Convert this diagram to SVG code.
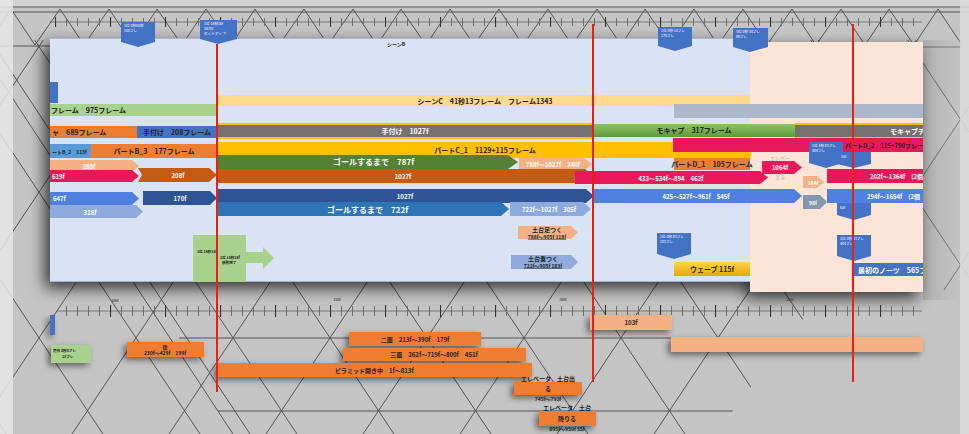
<svg xmlns="http://www.w3.org/2000/svg" width="969" height="434" viewBox="0 0 969 434">
<defs>
<style>
.t{font-family:"Noto Sans CJK JP","Noto Sans",sans-serif;font-weight:700}
.w{fill:#ffffff}
.d{fill:#222222}
.f7{font-size:7px}
.f6{font-size:6px}
.f5{font-size:5px}
.f4{font-size:3.6px}
.c{text-anchor:middle}
.ln{stroke:#555;stroke-width:1;fill:none}
.red{stroke:#e8201c;stroke-width:2}
.mk{fill:#4472c4}
.mt{font-family:"Noto Sans CJK JP","Noto Sans",sans-serif;font-size:3.6px;fill:#fff}
</style>
<filter id="sh" x="-10%" y="-15%" width="120%" height="135%">
<feDropShadow dx="-5" dy="6" stdDeviation="8" flood-color="#000" flood-opacity="0.75"/>
</filter>
<filter id="sh2" x="-20%" y="-40%" width="140%" height="200%">
<feDropShadow dx="-3" dy="3" stdDeviation="3" flood-color="#000" flood-opacity="0.5"/>
</filter>
<clipPath id="chart"><rect x="50" y="38" width="873" height="254"/></clipPath>
<clipPath id="lat"><polygon points="0,40 969,40 969,290 825,290 715,434 0,434"/></clipPath>
<pattern id="tk" patternUnits="userSpaceOnUse" x="55" y="0" width="11" height="10"><line x1="0.5" y1="0" x2="0.5" y2="10" stroke="#666" stroke-width="0.9"/></pattern>
<pattern id="tkM" patternUnits="userSpaceOnUse" x="55" y="0" width="55" height="12"><line x1="0.5" y1="0" x2="0.5" y2="12" stroke="#333" stroke-width="1.2"/></pattern>
<linearGradient id="wave" x1="0" y1="0" x2="0" y2="1"><stop offset="0" stop-color="#ffd34d"/><stop offset="1" stop-color="#e8a800"/></linearGradient>
<linearGradient id="moc" x1="0" y1="0" x2="0" y2="1"><stop offset="0" stop-color="#8cc266"/><stop offset="1" stop-color="#5e9b3a"/></linearGradient>
<linearGradient id="rsh" x1="0" y1="0" x2="1" y2="0"><stop offset="0" stop-color="#8a8a8a"/><stop offset="1" stop-color="#c4c4c4"/></linearGradient>
</defs>

<!-- background -->
<rect x="0" y="0" width="969" height="434" fill="#c4c4c4"/>
<rect x="0" y="0" width="969" height="8" fill="#d2d2d2"/>
<g id="lattice" clip-path="url(#lat)">
<path class="ln" d="M-283 0L6 434M-186 0L103 434M-89 0L200 434M8 0L297 434M105 0L394 434M202 0L491 434M299 0L588 434M396 0L685 434M493 0L782 434M590 0L879 434M687 0L976 434M784 0L1073 434M881 0L1170 434"/>
<path class="ln" d="M70 0L-219 434M167 0L-122 434M264 0L-25 434M361 0L72 434M458 0L169 434M555 0L266 434M652 0L363 434M749 0L460 434M846 0L557 434M943 0L654 434M1040 0L751 434M1137 0L848 434"/>
<path class="ln" d="M-52 0L233 434M-36 0L250 434M179 338L680 338M218 411L733 411M0 46L50 46M923 47L962 47"/>
</g>
<g id="truss">
<path class="ln" d="M0 7L969 7M0 12L969 12"/>
<path class="ln" d="M-13 45L11 9L35 45L60 9L84 45L109 9L133 45L157 9L182 45L206 9L231 45L255 9L279 45L304 9L328 45L353 9L377 45L401 9L426 45L450 9L474 45L499 9L523 45L548 9L572 45L597 9L621 45L645 9L670 45L694 9L718 45L743 9L767 45L792 9L816 45L841 9L865 45L889 9L914 45L938 9L962 45"/>
</g>
<rect x="0" y="0" width="13" height="434" fill="#e6e6e6" opacity="0.85"/>
<rect x="923" y="40" width="37" height="260" fill="url(#rsh)" opacity="0.35"/>
<rect x="960" y="0" width="9" height="434" fill="#dcdcdc" opacity="0.9"/>

<!-- rulers -->
<g id="ruler-top">
<line x1="50" y1="22" x2="922" y2="22" stroke="#666" stroke-width="0.8"/>
<rect x="55" y="18" width="867" height="8" fill="url(#tk)"/>
<rect x="55" y="17" width="867" height="10" fill="url(#tkM)"/>
</g>

<!-- chart panel -->
<g id="panel" filter="url(#sh)">
<rect x="50" y="38" width="700" height="244" fill="#dae3f3"/>
<rect x="750" y="42" width="173" height="250" fill="#fce4d6"/>
</g>
<line x1="50" y1="38.5" x2="750" y2="38.5" stroke="#9fb6dd" stroke-width="1"/>
<line x1="50" y1="281.5" x2="750" y2="281.5" stroke="#9fb6dd" stroke-width="1"/>

<g id="ruler-bottom">
<line x1="57" y1="311" x2="922" y2="311" stroke="#666" stroke-width="0.8"/>
<rect x="57" y="306" width="865" height="10" fill="url(#tk)"/>
<rect x="57" y="305" width="865" height="12" fill="url(#tkM)"/>
<text x="115" y="302" class="t c" style="font-size:3px;fill:#444">1000</text>
<text x="337" y="301" class="t c" style="font-size:3px;fill:#444">1500</text>
<text x="563" y="301" class="t c" style="font-size:3px;fill:#444">2000</text>
<text x="790" y="301" class="t c" style="font-size:3px;fill:#444">2500</text>
</g>

<g id="bars" clip-path="url(#chart)">
<text x="396" y="46" class="t d c" style="font-size:5px">シーンB</text>
<rect x="50" y="82" width="8" height="21" fill="#4472c4"/>
<!-- row A -->
<g id="sceneC"><rect x="217" y="95" width="533" height="11" fill="#ffd98c"/><text x="485" y="103.5" class="t d c f7">シーンC　41秒13フレーム　フレーム1343</text></g>
<g id="frame975"><rect x="50" y="104" width="167" height="12" fill="#a9d18e"/><text x="51" y="113" class="t d f7">フレーム　975フレーム</text></g>
<rect x="674" y="104" width="249" height="14" fill="#adb9ca"/>
<!-- row B -->
<g id="moc689"><rect x="50" y="126" width="87" height="12" fill="#ed7d31"/><text x="52" y="134.5" class="t d f7">ャ　689フレーム</text></g>
<g id="hand208"><rect x="137" y="126" width="80" height="12" fill="#4472c4"/><text x="177" y="134.5" class="t d c f7">手付け　208フレーム</text></g>
<g id="hand1027"><rect x="217" y="123" width="376" height="16" fill="#ffc000"/><rect x="217" y="125" width="376" height="12" fill="#767171"/><text x="405" y="133.5" class="t w c f7">手付け　1027f</text></g>
<g id="moc317"><rect x="593" y="124" width="202" height="13" fill="url(#moc)"/><text x="694" y="133" class="t d c f7">モキャプ　317フレーム</text></g>
<g id="moc2"><rect x="795" y="123" width="128" height="16" fill="#ffc000"/><rect x="795" y="125" width="128" height="12" fill="#767171"/><text x="890" y="133.5" class="t w f7">モキャプチャ</text></g>
<!-- row C -->
<g id="partB2"><rect x="50" y="144" width="41" height="14" fill="#5b9bd5"/><text x="52" y="153.5" class="t d f5">ートB_2　113f</text></g>
<g id="partB3"><rect x="91" y="144" width="126" height="14" fill="#ed7d31"/><text x="154" y="153.5" class="t d c f7">パートB_3　177フレーム</text></g>
<g id="partC1"><rect x="217" y="142" width="534" height="16" fill="#ffc000"/><text x="485" y="153" class="t d c f7">パートC_1　1129+115フレーム</text></g>
<g id="partD2"><rect x="673" y="138" width="250" height="14" fill="#e8195a"/><text x="845" y="147.5" class="t d f6">パートD_2　115+790フレーム</text></g>
<!-- row D -->
<g id="a280"><polygon points="50,160 132,160 139,166 132,172 50,172" fill="#f4b183"/><text x="89" y="168.5" class="t w c f6">280f</text></g>
<g id="goal787"><polygon points="217,155 508,155 518,162 508,169 217,169" fill="#548235"/><text x="333" y="165" class="t w" style="font-size:8px">ゴールするまで　787f</text></g>
<g id="a788"><polygon points="519,158 584,158 592,164 584,171 519,171" fill="#f4b183"/><text x="553" y="167" class="t w c f6">788f〜1027f　240f</text></g>
<g id="partD1"><rect x="674" y="158" width="76" height="12" fill="#ed7d31"/><text x="712" y="166.5" class="t d c f7">パートD_1　105フレーム</text></g>
<!-- row E -->
<g id="a619"><polygon points="50,170 132,170 139,176 132,182 50,182" fill="#e8195a"/><text x="52" y="179" class="t w f6">619f</text></g>
<g id="a208"><polygon points="138,168 209,168 217,175 209,182 138,182 142,175" fill="#c55a11"/><text x="178" y="178" class="t w c f6">208f</text></g>
<g id="a1027o"><polygon points="217,169 585,169 593,176 585,183 217,183" fill="#c55a11"/><text x="403" y="179" class="t w c f6">1027f</text></g>
<g id="a433"><polygon points="575,171 760,171 768,177.5 760,184 575,184" fill="#e8195a"/><text x="671" y="180.5" class="t w c f6">433〜534f〜894　462f</text></g>
<g id="a1064"><text x="780" y="160" class="t c" style="font-size:5px;fill:#c9c9c9">エレベー</text><text x="780" y="179" class="t c" style="font-size:5px;fill:#c9c9c9">出る</text><polygon points="762,161 794,161 802,167.5 794,174 762,174" fill="#e8195a"/><text x="780" y="170" class="t w c f6">1064f</text></g>
<g id="a164"><polygon points="803,176 817,176 824,182 817,188 803,188" fill="#f4b183"/><text x="813" y="184.5" class="t w c f5">164f</text></g>
<g id="a202"><rect x="827" y="169" width="96" height="14" fill="#e8195a"/><text x="870" y="179" class="t w f6">202f〜1364f　(2個</text></g>
<!-- row F -->
<g id="a647"><polygon points="50,192 132,192 139,198.5 132,205 50,205" fill="#4f81e0"/><text x="53" y="201" class="t w f6">647f</text></g>
<g id="a170"><polygon points="143,191 210,191 217,198 210,205 143,205" fill="#2f5597"/><text x="180" y="201" class="t w c f6">170f</text></g>
<g id="a1027b"><polygon points="217,189 586,189 594,196 586,203 217,203" fill="#2f5597"/><text x="405" y="199" class="t w c f6">1027f</text></g>
<g id="a425"><polygon points="593,189 794,189 802,196 794,203 593,203" fill="#4f81e0"/><text x="696" y="199" class="t w c f6">425〜527f〜961f　545f</text></g>
<g id="a98"><polygon points="803,195 820,195 827,202 820,209 803,209" fill="#8497b0"/><text x="813" y="204.5" class="t w c f5">98f</text></g>
<g id="a294"><rect x="827" y="189" width="96" height="14" fill="#4f81e0"/><text x="867" y="199" class="t w f6">294f〜1654f　(2個</text></g>
<!-- row G -->
<g id="a318"><polygon points="50,205 136,205 143,211.5 136,218 50,218" fill="#8faadc"/><text x="90" y="214.5" class="t w c f6">318f</text></g>
<g id="goal722"><polygon points="217,202 501,202 509,209 501,216 217,216" fill="#2e75b6"/><text x="327" y="212.5" class="t w" style="font-size:8px">ゴールするまで　722f</text></g>
<g id="a722"><polygon points="510,202 583,202 591,209 583,216 510,216" fill="#8faadc"/><text x="549" y="212" class="t w c f6">722f〜1027f　305f</text></g>
<!-- row H -->
<g id="foot"><polygon points="518,226 571,226 578,232.5 571,239 518,239" fill="#f4b183"/><text x="547" y="232" class="t d c f6">土台足つく</text><text x="547" y="238.5" class="t d c f5" text-decoration="underline">788f〜905f 118f</text></g>
<g id="ride"><polygon points="511,255 571,255 578,262 571,269 511,269" fill="#8faadc"/><text x="543" y="261" class="t d c f6">土台乗つく</text><text x="543" y="267.5" class="t d c f5" text-decoration="underline">722f〜905f 183f</text></g>
<g id="move"><rect x="193" y="235" width="53" height="47" fill="#a9d18e"/><polygon points="246,252 263,252 263,247 274,258 263,269 263,263 246,263" fill="#a9d18e"/><text x="197" y="253" class="t d f4">1位 16秒16f</text><text x="220" y="258.5" class="t d f4">1位 16秒16f</text><text x="222" y="264" class="t d f4">移動完了</text></g>
<g id="wave"><rect x="674" y="262" width="76" height="14" fill="url(#wave)"/><text x="712" y="272" class="t d c f7">ウェーブ 115f</text></g>
<g id="notes"><rect x="854" y="263" width="69" height="13" fill="#4472c4"/><text x="858" y="272.5" class="t w f7">最初のノーツ　565フ</text></g>
</g>

<!-- markers -->
<g id="m1"><polygon class="mk" points="121,22 155,22 155,42 138,47 121,42"/><text x="124" y="27" class="mt">1位 0秒08秒</text><text x="124" y="32" class="mt">150フレ</text></g>
<g id="m2"><polygon class="mk" points="200,20 237,20 237,39 218,44 200,39"/><text x="204" y="25" class="mt">1位 16秒16f</text><text x="204" y="30" class="mt">167f0</text><text x="204" y="35" class="mt">セットアップ</text></g>
<g id="m3"><polygon class="mk" points="658,27 692,27 692,46 675,51 658,46"/><text x="661" y="32" class="mt">2位 0秒 14フレ</text><text x="661" y="37" class="mt">270フレ</text></g>
<g id="m4"><polygon class="mk" points="733,28 768,28 768,47 750,52 733,47"/><text x="736" y="33" class="mt">3位 0秒 34フレ</text><text x="736" y="38" class="mt">90フレ</text></g>
<g id="m5"><polygon class="mk" points="809,142 843,142 843,163 826,168 809,163"/><text x="812" y="147" class="mt">1位 4秒 03フレ</text><text x="812" y="152" class="mt">404フレ</text></g>
<g id="m6"><polygon class="mk" points="837,152 871,152 871,164 854,168 837,164"/><text x="841" y="158" class="mt">15f</text></g>
<g id="m7"><polygon class="mk" points="837,203 871,203 871,215 854,220 837,215"/><text x="840" y="209" class="mt">65f</text></g>
<g id="m8"><polygon class="mk" points="657,233 691,233 691,254 674,259 657,254"/><text x="660" y="238" class="mt">2位 0秒 03フレ</text><text x="660" y="243" class="mt">103フレ</text></g>
<g id="m9"><polygon class="mk" points="837,235 871,235 871,256 854,261 837,256"/><text x="840" y="240" class="mt">1位 4秒 03フレ</text><text x="840" y="245" class="mt">404フレ</text></g>

<!-- bottom items -->
<g filter="url(#sh2)">
<rect id="bblue" x="50" y="315" width="5" height="20" fill="#4472c4"/>
<rect x="51" y="345" width="40" height="18" fill="#a9d18e"/>
<rect x="127" y="342" width="77" height="15" fill="#ed7d31"/>
<rect x="349" y="332" width="132" height="14" fill="#ed7d31"/>
<rect x="343" y="348" width="183" height="13" fill="#ed7d31"/>
<rect x="217" y="363" width="315" height="14" fill="#ed7d31"/>
<rect x="514" y="382" width="68" height="13" fill="#ed7d31"/>
<rect x="539" y="411" width="57" height="15" fill="#ed7d31"/>
<rect x="590" y="315" width="82" height="15" fill="#f4b183"/>
<rect x="671" y="337" width="252" height="15" fill="#f4b183"/>
</g>
<g id="b-farm"><text x="53" y="352" class="t d f4">農作 0秒0フレ</text><text x="62" y="358" class="t d f4">13フレ</text></g>
<g id="b-dan"><text x="165" y="348.5" class="t d c f5">段</text><text x="165" y="355" class="t d c f5">230f〜429f　199f</text></g>
<g id="b-2"><text x="415" y="341.5" class="t d c f6">二面　213f〜390f　179f</text></g>
<g id="b-3"><text x="434" y="357" class="t d c f6">三面　262f〜719f〜800f　451f</text></g>
<g id="b-pyr"><text x="335" y="372.5" class="t d f6">ピラミッド開き中　1f〜813f</text></g>
<g id="b-elev1"><text x="548" y="381" class="t d c f6">エレベータ　土台出</text><text x="548" y="391" class="t d c f6">る</text><text x="548" y="400.5" class="t d c f5">745f〜793f</text></g>
<g id="b-elev2"><text x="567" y="410" class="t d c f6">エレベータ　土台</text><text x="567" y="421" class="t d c f6">降りる</text><text x="567" y="430.5" class="t d c f5">895f〜950f 55f</text></g>
<g id="b-103"><text x="631" y="325" class="t d c f6">103f</text></g>

<!-- red lines -->
<g id="redlines">
<line class="red" x1="217" y1="44" x2="217" y2="392"/>
<line class="red" x1="593" y1="24" x2="593" y2="382"/>
<line class="red" x1="853" y1="24" x2="853" y2="382"/>
</g>
</svg>
